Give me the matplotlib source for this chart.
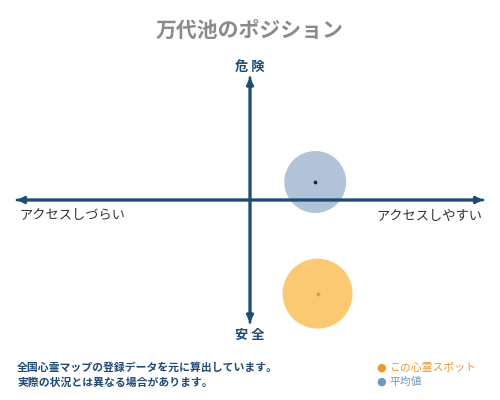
"""Position chart for a haunted spot: access (x) vs danger (y)."""
import matplotlib
matplotlib.use("Agg")
import matplotlib.pyplot as plt

plt.rcParams['font.family'] = ['Noto Sans CJK JP', 'DejaVu Sans']

title = "万代池のポジション"
axis_top, axis_bottom = "危 険", "安 全"
axis_left, axis_right = "アクセスしづらい", "アクセスしやすい"
notes = ["全国心霊マップの登録データを元に算出しています。",
         "実際の状況とは異なる場合があります。"]
legend_labels = ["この心霊スポット", "平均値"]

# positions on a -1..1 scale (x: access, y: danger)
series_x = [0.29, 0.28]
series_y = [-0.78, 0.15]
series_size = [2540, 1990]
fill_colors = ["#fbc462", "#a9bcd5"]
dot_colors = ["#f0962a", "#1a2a40"]
legend_colors = ["#f0962a", "#6f97bf"]

NAVY = "#1e4a75"

fig = plt.figure(figsize=(5, 4), dpi=100)
# plot area: x 17..483 px, y 80..320 px
ax = fig.add_axes([17 / 500, 1 - 320 / 400, 466 / 500, 240 / 400])
ax.set_xlim(-1, 1)
ax.set_ylim(-1, 1)
ax.axis("off")

for x, y, s, fc, dc in zip(series_x, series_y, series_size, fill_colors, dot_colors):
    ax.scatter([x], [y], s=s, color=fc, edgecolors="none", zorder=2, alpha=0.9,
               clip_on=False)
    ax.scatter([x], [y], s=3, color=dc, zorder=5, clip_on=False)

arrow = dict(arrowstyle="-|>", color=NAVY, lw=2, mutation_scale=10,
             shrinkA=0, shrinkB=0)
for tip, tail in [((1, 0), (-1, 0)), ((-1, 0), (1, 0)),
                  ((0, 1.02), (0, -1.02)), ((0, -1.02), (0, 1.02))]:
    ax.annotate("", xy=tip, xytext=tail, arrowprops=arrow,
                annotation_clip=False, zorder=4)

fig.text(0.5, 1 - 30 / 400, title, ha="center", va="center",
         fontsize=15, color="#8a8a8a", fontweight="bold")
fig.text(0.5, 1 - 67 / 400, axis_top, ha="center", va="center",
         fontsize=9.5, color=NAVY, fontweight="bold")
fig.text(0.5, 1 - 335 / 400, axis_bottom, ha="center", va="center",
         fontsize=9.5, color=NAVY, fontweight="bold")
fig.text(19 / 500, 1 - 216 / 400, axis_left, ha="left", va="center",
         fontsize=9.5, color="#333333")
fig.text(482 / 500, 1 - 216 / 400, axis_right, ha="right", va="center",
         fontsize=9.5, color="#333333")

for i, line in enumerate(notes):
    fig.text(17 / 500, 1 - (368 + 15 * i) / 400, line, ha="left", va="center",
             fontsize=7.8, color=NAVY, fontweight="bold")

for i, (lab, col) in enumerate(zip(legend_labels, legend_colors)):
    yy = 1 - (368 + 14 * i) / 400
    fig.text(381 / 500, yy, "●", ha="center", va="center", fontsize=8, color=col,
             family=['DejaVu Sans'])
    fig.text(389 / 500, yy, lab, ha="left", va="center", fontsize=7.8, color=col)

fig.savefig("out.png", dpi=100)
